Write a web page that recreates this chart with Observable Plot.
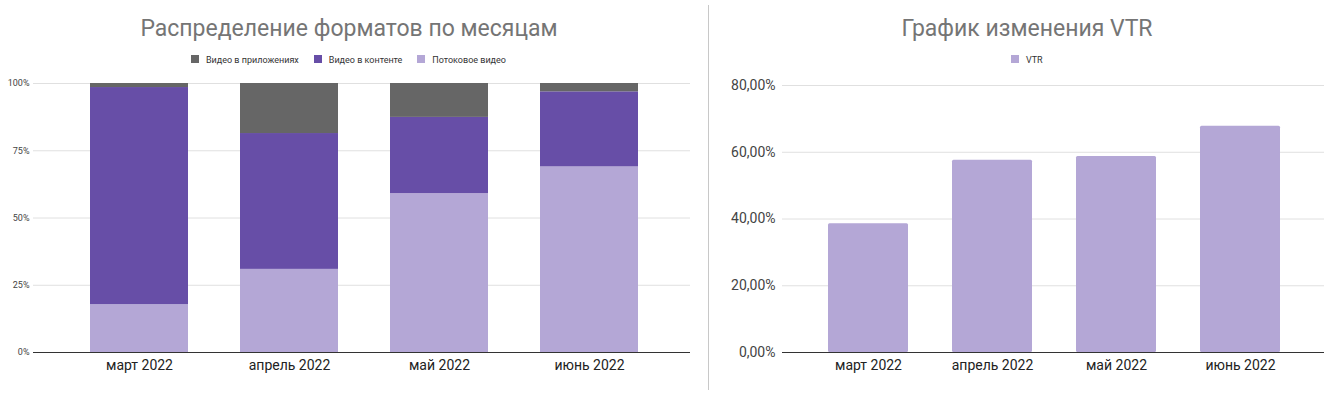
<!DOCTYPE html>
<html>
<head>
<meta charset="utf-8">
<script src="https://cdn.jsdelivr.net/npm/d3@7"></script>
<script src="https://cdn.jsdelivr.net/npm/@observablehq/plot@0.6"></script>
<style>
  body { margin: 0; background: #fff; font-family: Roboto, "Noto Sans", sans-serif; }
  #wrap { position: relative; width: 1338px; height: 395px; overflow: hidden; }
  .title { position: absolute; top: 15px; font-size: 23px; color: #757575; text-align: center; white-space: nowrap; }
  .legend { position: absolute; top: 55px; display: flex; gap: 15px; font-size: 9px; color: #333; white-space: nowrap; align-items: center; }
  .legend span.sw { display: inline-block; width: 8px; height: 8px; margin-right: 7px; vertical-align: 0px; }
  .plot { position: absolute; top: 70px; }
  #sep { position: absolute; left: 708px; top: 5px; width: 1px; height: 385px; background: #c8c8c8; }
</style>
</head>
<body>
<div id="wrap">
  <div class="title" style="left:0;width:698px;">Распределение форматов по месяцам</div>
  <div class="legend" id="legL" style="left:191px;"></div>
  <div class="title" style="left:709px;width:636px;">График изменения VTR</div>
  <div class="legend" id="legR" style="left:1011px;"></div>
  <div id="sep"></div>
  <div class="plot" id="left" style="left:0;"></div>
  <div class="plot" id="right" style="left:700px;"></div>
</div>
<script>
// ---- data ----
const months = ["март 2022", "апрель 2022", "май 2022", "июнь 2022"];
const seriesNames = ["Видео в приложениях", "Видео в контенте", "Потоковое видео"];
const seriesColors = ["#666666", "#674ea7", "#b4a7d6"];
const streaming = [17.8, 30.9, 59.1, 69.0];   // Потоковое видео, %
const content = [80.7, 50.5, 28.3, 27.9];     // Видео в контенте, %
const apps = [1.5, 18.6, 12.6, 3.1];          // Видео в приложениях, %
const vtr = [38.6, 57.6, 58.7, 67.8];         // VTR, %
const leftTicks = [0, 0.25, 0.5, 0.75, 1];
const rightTicks = [0, 0.2, 0.4, 0.6, 0.8];

// ---- legends ----
function legend(el, names, colors) {
  el.innerHTML = names.map((n, i) =>
    `<div><span class="sw" style="background:${colors[i]}"></span>${n}</div>`).join("");
}
legend(document.getElementById("legL"), seriesNames, seriesColors);
legend(document.getElementById("legR"), ["VTR"], ["#b4a7d6"]);

// ---- left stacked chart ----
const stacked = [];
months.forEach((m, i) => {
  stacked.push({month: m, series: "Потоковое видео", value: streaming[i] / 100});
  stacked.push({month: m, series: "Видео в контенте", value: content[i] / 100});
  stacked.push({month: m, series: "Видео в приложениях", value: apps[i] / 100});
});

const left = Plot.plot({
  width: 700, height: 320,
  marginLeft: 33, marginRight: 10, marginTop: 13, marginBottom: 38,
  style: {fontFamily: "Roboto, sans-serif", color: "#222", background: "transparent"},
  x: {domain: months, range: [89.3, 638.3], paddingInner: 0.348, paddingOuter: 0, label: null},
  y: {domain: [0, 1], label: null},
  color: {domain: seriesNames, range: seriesColors},
  marks: [
    Plot.ruleY(leftTicks, {stroke: "#e0e0e0", strokeWidth: 1}),
    Plot.barY(stacked, {x: "month", y: "value", fill: "series",
      order: ["Потоковое видео", "Видео в контенте", "Видео в приложениях"]}),
    Plot.ruleY([0], {stroke: "#333", strokeWidth: 1}),
    Plot.axisY({ticks: leftTicks, tickFormat: d3.format(".0%"), tickSize: 0, tickPadding: 4,
      fontSize: 9, fill: "#444", label: null}),
    Plot.axisX({tickSize: 0, tickPadding: 8, fontSize: 14, fill: "#222", label: null})
  ]
});
document.getElementById("left").appendChild(left);

// ---- right VTR chart ----
const vtrData = months.map((m, i) => ({month: m, value: vtr[i] / 100}));
const fmt = v => (v * 100).toFixed(2).replace(".", ",") + "%";

const right = Plot.plot({
  width: 638, height: 320,
  marginLeft: 82, marginRight: 14, marginTop: 15, marginBottom: 38,
  style: {fontFamily: "Roboto, sans-serif", color: "#222", background: "transparent"},
  x: {domain: months, range: [126.7, 581], paddingInner: 0.352, paddingOuter: 0, label: null},
  y: {domain: [0, 0.8], label: null},
  marks: [
    Plot.ruleY(rightTicks, {stroke: "#e0e0e0", strokeWidth: 1}),
    Plot.barY(vtrData, {x: "month", y: "value", fill: "#b4a7d6", rx: 1.5}),
    Plot.ruleY([0], {stroke: "#333", strokeWidth: 1}),
    Plot.axisY({ticks: rightTicks, tickFormat: fmt, tickSize: 0, tickPadding: 7,
      fontSize: 14, fill: "#444", label: null}),
    Plot.axisX({tickSize: 0, tickPadding: 8, fontSize: 14, fill: "#222", label: null})
  ]
});
document.getElementById("right").appendChild(right);
</script>
</body>
</html>
